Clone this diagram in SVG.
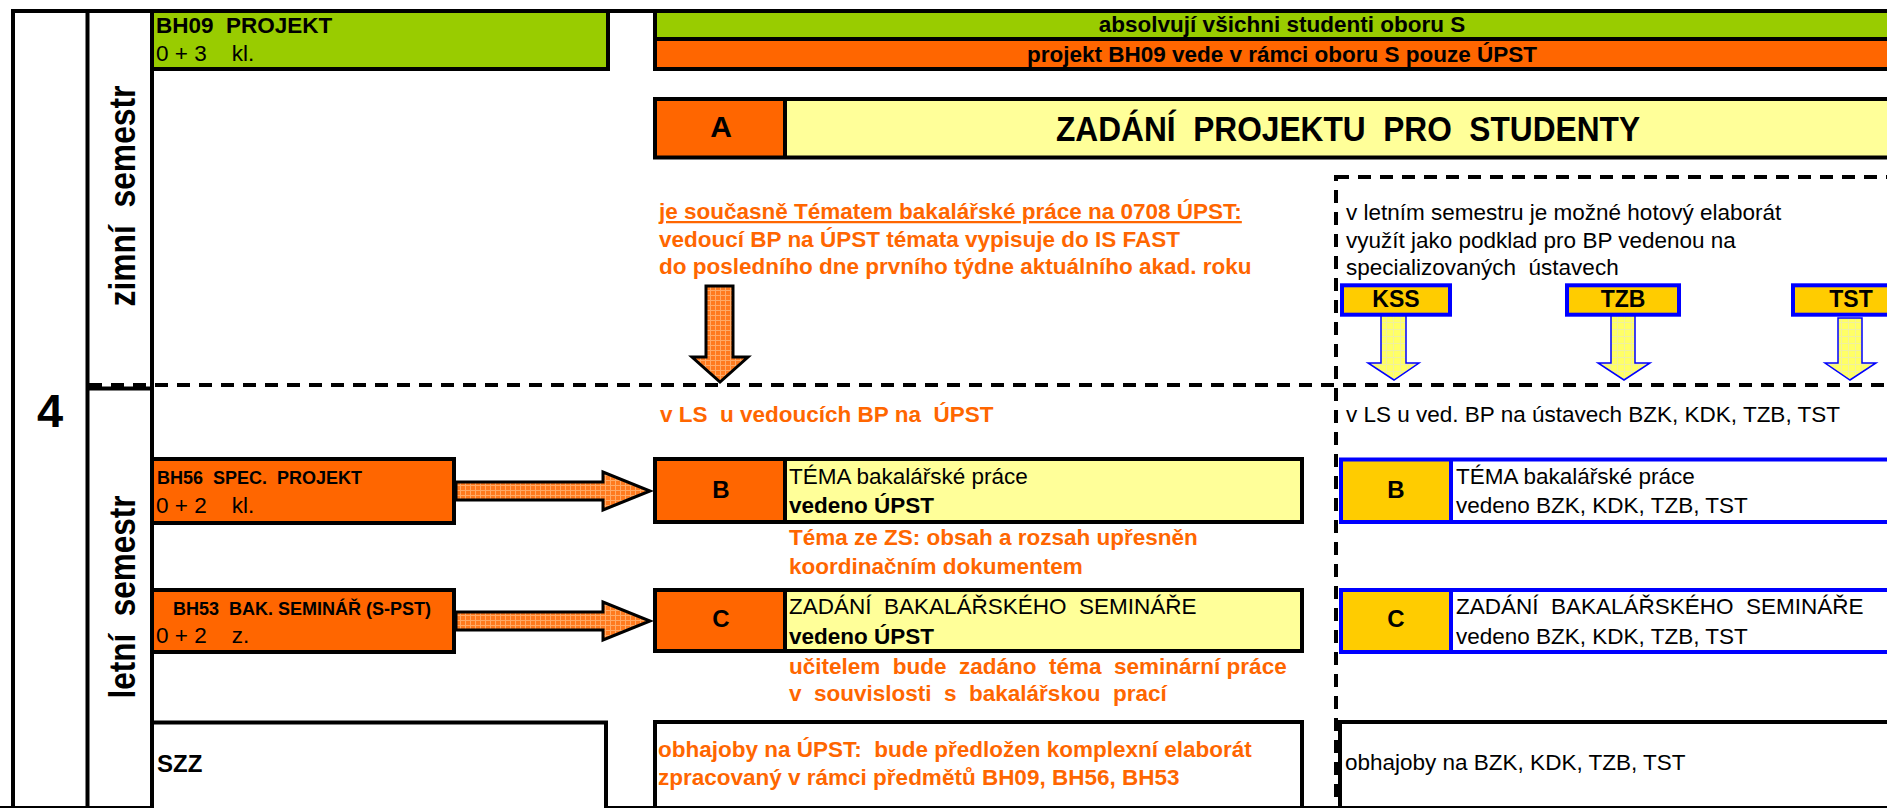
<svg xmlns="http://www.w3.org/2000/svg" width="1887" height="808" viewBox="0 0 1887 808">
<style>
.t{font-family:"Liberation Sans",Arial,Helvetica,sans-serif;font-size:22.5px;fill:#000}
.b{font-weight:bold}
.o{fill:#FF6600}
.c{text-anchor:middle}
.k{stroke:#000;stroke-width:4;fill:none}
.kb{stroke:#0000FF;stroke-width:4;fill:none}
.d{stroke:#000;stroke-width:4;stroke-dasharray:13 9;fill:none}
.go{fill:#FFCC00;stroke:#0000FF;stroke-width:4}
</style>
<defs>
<pattern id="po" width="5" height="5" patternUnits="userSpaceOnUse"><rect width="5" height="5" fill="#FF7A1E"/><path d="M0 0.5H5M0.5 0V5" stroke="#FFAA66" stroke-width="1"/></pattern>
<pattern id="py" width="7" height="7" patternUnits="userSpaceOnUse"><rect width="7" height="7" fill="#FFFF66"/><path d="M0 0.5H7M0.5 0V7" stroke="#F0F0A0" stroke-width="1"/></pattern>
<clipPath id="clipA"><rect x="640" y="150" width="614" height="140"/></clipPath>
</defs>

<g id="frame">
<line class="k" x1="13" y1="11" x2="13" y2="808"/>
<line class="k" x1="87.5" y1="11" x2="87.5" y2="808"/>
<line class="k" x1="152" y1="11" x2="152" y2="808"/>
<line class="k" x1="11" y1="11" x2="1887" y2="11"/>
<line class="k" x1="87.5" y1="388.5" x2="152" y2="388.5"/>
<line x1="0" y1="807" x2="1887" y2="807" stroke="#000" stroke-width="2"/>
</g>

<g id="year"><text class="t b c" x="50" y="427" style="font-size:47px">4</text></g>
<g id="zimni"><text class="t b c" transform="translate(134.5,196) rotate(-90)" style="font-size:36px" textLength="221" lengthAdjust="spacingAndGlyphs" xml:space="preserve">zimní  semestr</text></g>
<g id="letni"><text class="t b c" transform="translate(134.5,597) rotate(-90)" style="font-size:36px" textLength="203" lengthAdjust="spacingAndGlyphs" xml:space="preserve">letní  semestr</text></g>

<g id="bh09">
<rect x="152" y="11" width="456" height="58" class="k" style="fill:#99CC00"/>
<text class="t b" x="156" y="33" xml:space="preserve">BH09  PROJEKT</text>
<text class="t" x="156" y="61" xml:space="preserve">0 + 3    kl.</text>
</g>

<g id="header">
<rect x="655" y="11" width="1240" height="28" fill="#99CC00"/>
<rect x="655" y="39" width="1240" height="30" fill="#FF6600"/>
<rect x="655" y="11" width="1240" height="58" class="k"/>
<line class="k" x1="655" y1="39" x2="1887" y2="39"/>
<text class="t b c" x="1282" y="32">absolvují všichni studenti oboru S</text>
<text class="t b c" x="1282" y="61.5">projekt BH09 vede v rámci oboru S pouze ÚPST</text>
</g>

<g id="nodeA">
<rect x="655" y="99" width="130" height="58.5" fill="#FF6600"/>
<rect x="785" y="99" width="1110" height="58.5" fill="#FFFF99"/>
<rect x="655" y="99" width="1240" height="58.5" class="k"/>
<line class="k" x1="785" y1="99" x2="785" y2="157.5"/>
<text class="t b c" x="721" y="137" style="font-size:30px">A</text>
<text class="t b" x="1056" y="141" style="font-size:35px" textLength="584" lengthAdjust="spacingAndGlyphs" xml:space="preserve">ZADÁNÍ  PROJEKTU  PRO  STUDENTY</text>
</g>

<g id="noteA" clip-path="url(#clipA)">
<text class="t b o" x="659" y="219" text-decoration="underline">je současně Tématem bakalářské práce na 0708 ÚPST:</text>
<text class="t b o" x="659" y="246.5">vedoucí BP na ÚPST témata vypisuje do IS FAST</text>
<text class="t b o" x="659" y="273.5">do posledního dne prvního týdne aktuálního akad. roku</text>
</g>

<g id="noteSpec">
<rect class="d" x="1336" y="177" width="600" height="700"/>
<text class="t" x="1346" y="219.5">v letním semestru je možné hotový elaborát</text>
<text class="t" x="1346" y="247.5">využít jako podklad pro BP vedenou na</text>
<text class="t" x="1346" y="275" xml:space="preserve">specializovaných  ústavech</text>
</g>

<g id="kss">
<rect x="1342" y="285.3" width="108" height="29.4" class="go"/>
<text class="t b c" x="1396" y="306.5" style="font-size:23px">KSS</text>
</g>
<g id="tzb">
<rect x="1567" y="285.3" width="112" height="29.4" class="go"/>
<text class="t b c" x="1623" y="306.5" style="font-size:23px">TZB</text>
</g>
<g id="tst">
<rect x="1793" y="285.3" width="120" height="29.4" class="go"/>
<text class="t b c" x="1851" y="306.5" style="font-size:23px">TST</text>
</g>

<g id="semdiv"><line class="d" x1="89" y1="385" x2="1887" y2="385"/></g>

<g id="lsTexts">
<text class="t b o" x="660" y="421.5" xml:space="preserve">v LS  u vedoucích BP na  ÚPST</text>
<text class="t" x="1346" y="421.5">v LS u ved. BP na ústavech BZK, KDK, TZB, TST</text>
</g>

<g id="bh56">
<rect x="152" y="459" width="302" height="64" class="k" style="fill:#FF6600"/>
<text class="t b" x="157" y="484" style="font-size:18px" xml:space="preserve">BH56  SPEC.  PROJEKT</text>
<text class="t" x="156" y="513" xml:space="preserve">0 + 2    kl.</text>
</g>

<g id="bh53">
<rect x="152" y="590" width="302" height="62" class="k" style="fill:#FF6600"/>
<text class="t b" x="173" y="615" style="font-size:18px" xml:space="preserve">BH53  BAK. SEMINÁŘ (S-PST)</text>
<text class="t" x="156" y="643" xml:space="preserve">0 + 2    z.</text>
</g>

<g id="nodeB">
<rect x="655" y="459" width="130" height="63" fill="#FF6600"/>
<rect x="785" y="459" width="517" height="63" fill="#FFFF99"/>
<rect x="655" y="459" width="647" height="63" class="k"/>
<line class="k" x1="785" y1="459" x2="785" y2="522"/>
<text class="t b c" x="721" y="498" style="font-size:24px">B</text>
<text class="t" x="789" y="484">TÉMA bakalářské práce</text>
<text class="t b" x="789" y="513">vedeno ÚPST</text>
</g>
<g id="noteB">
<text class="t b o" x="789" y="545">Téma ze ZS: obsah a rozsah upřesněn</text>
<text class="t b o" x="789" y="573.5">koordinačním dokumentem</text>
</g>

<g id="nodeC">
<rect x="655" y="590" width="130" height="61" fill="#FF6600"/>
<rect x="785" y="590" width="517" height="61" fill="#FFFF99"/>
<rect x="655" y="590" width="647" height="61" class="k"/>
<line class="k" x1="785" y1="590" x2="785" y2="651"/>
<text class="t b c" x="721" y="627" style="font-size:24px">C</text>
<text class="t" x="789" y="613.5" xml:space="preserve">ZADÁNÍ  BAKALÁŘSKÉHO  SEMINÁŘE</text>
<text class="t b" x="789" y="643.5">vedeno ÚPST</text>
</g>
<g id="noteC">
<text class="t b o" x="789" y="673.5" xml:space="preserve">učitelem  bude  zadáno  téma  seminární práce</text>
<text class="t b o" x="789" y="701" xml:space="preserve">v  souvislosti  s  bakalářskou  prací</text>
</g>

<g id="szz">
<rect x="152" y="722.5" width="454" height="100" class="k" style="fill:#FFFFFF"/>
<text class="t b" x="157" y="772" style="font-size:24px">SZZ</text>
</g>
<g id="obhUPST">
<rect x="655" y="722" width="647" height="100" class="k"/>
<text class="t b o" x="658" y="757" xml:space="preserve">obhajoby na ÚPST:  bude předložen komplexní elaborát</text>
<text class="t b o" x="658" y="784.5">zpracovaný v rámci předmětů BH09, BH56, BH53</text>
</g>

<g id="nodeB2">
<rect x="1341" y="459.5" width="110" height="62.5" fill="#FFCC00"/>
<rect x="1451" y="459.5" width="450" height="62.5" fill="#FFFFFF"/>
<rect x="1341" y="459.5" width="560" height="62.5" class="kb"/>
<line class="kb" x1="1451" y1="459.5" x2="1451" y2="522"/>
<text class="t b c" x="1396" y="498" style="font-size:24px">B</text>
<text class="t" x="1456" y="484">TÉMA bakalářské práce</text>
<text class="t" x="1456" y="513">vedeno BZK, KDK, TZB, TST</text>
</g>
<g id="nodeC2">
<rect x="1341" y="590" width="110" height="62" fill="#FFCC00"/>
<rect x="1451" y="590" width="450" height="62" fill="#FFFFFF"/>
<rect x="1341" y="590" width="560" height="62" class="kb"/>
<line class="kb" x1="1451" y1="590" x2="1451" y2="652"/>
<text class="t b c" x="1396" y="627" style="font-size:24px">C</text>
<text class="t" x="1456" y="613.5" xml:space="preserve">ZADÁNÍ  BAKALÁŘSKÉHO  SEMINÁŘE</text>
<text class="t" x="1456" y="643.5">vedeno BZK, KDK, TZB, TST</text>
</g>
<g id="obhOther">
<rect x="1340" y="722" width="560" height="100" class="k"/>
<text class="t" x="1345" y="770">obhajoby na BZK, KDK, TZB, TST</text>
</g>

<g id="connectors">
<polygon points="706,286 733,286 733,357 748,357 720,382 692,357 706,357" fill="url(#po)" stroke="#000" stroke-width="3" stroke-linejoin="miter"/>
<polygon points="456,482 603,482 603,472 650,491 603,510 603,500 456,500" fill="url(#po)" stroke="#000" stroke-width="3"/>
<polygon points="456,612 603,612 603,602 650,621 603,640 603,630 456,630" fill="url(#po)" stroke="#000" stroke-width="3"/>
<polygon points="1381,316 1406,316 1406,363 1419,363 1394,380 1368,363 1381,363" fill="url(#py)" stroke="#0000FF" stroke-width="1.5"/>
<polygon points="1611,316 1635,316 1635,363 1650,363 1624,380 1598,363 1611,363" fill="url(#py)" stroke="#0000FF" stroke-width="1.5"/>
<polygon points="1838,318 1862,318 1862,363 1876,363 1850,380 1825,363 1838,363" fill="url(#py)" stroke="#0000FF" stroke-width="1.5"/>
</g>
</svg>
